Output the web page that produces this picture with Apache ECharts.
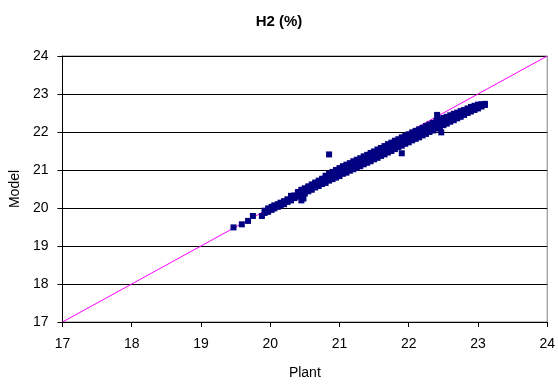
<!DOCTYPE html>
<html>
<head>
<meta charset="utf-8">
<script src="https://cdn.jsdelivr.net/npm/echarts@6/dist/echarts.min.js"></script>
<style>
  html, body { margin: 0; padding: 0; background: #fff; }
  #chart { width: 558px; height: 385px; }
</style>
</head>
<body>
<div id="chart"></div>
<script>
// Plant value (x) and the model values read at that plant value (y)
var plantSteps = [19.92, 19.97, 20.02, 20.06, 20.11, 20.15, 20.2, 20.25, 20.3, 20.35,
	20.4, 20.45, 20.5, 20.55, 20.6, 20.65, 20.7, 20.75, 20.8, 20.85,
	20.9, 20.95, 21.0, 21.05, 21.1, 21.15, 21.2, 21.25, 21.3, 21.35,
	21.4, 21.45, 21.5, 21.55, 21.6, 21.65, 21.7, 21.75, 21.8, 21.85,
	21.9, 21.95, 22.0, 22.05, 22.1, 22.15, 22.2, 22.25, 22.3, 22.35,
	22.4, 22.45, 22.5, 22.55, 22.6, 22.65, 22.7, 22.75, 22.8, 22.85,
	22.9, 22.95, 23.0, 23.05, 23.1];

var modelAtStep = [
	[19.87, 19.93], [19.9, 19.99], [19.95, 20.03], [19.99, 20.07, 20.04], [20.03, 20.1],
	[20.07, 20.14, 20.11], [20.1, 20.18, 20.15], [20.16, 20.23, 20.2], [20.2, 20.28, 20.25, 20.32], [20.26, 20.33, 20.3],
	[20.3, 20.38, 20.34, 20.42], [20.35, 20.43, 20.4, 20.48], [20.38, 20.46, 20.52, 20.43], [20.44, 20.5, 20.57, 20.54], [20.48, 20.55, 20.62, 20.58],
	[20.54, 20.6, 20.67, 20.64], [20.58, 20.65, 20.72, 20.68], [20.63, 20.7, 20.77, 20.74], [20.66, 20.74, 20.8, 20.85], [20.72, 20.79, 20.86, 20.9],
	[20.76, 20.84, 20.9, 20.95], [20.8, 20.88, 20.94, 21.0], [20.84, 20.92, 20.98, 21.05], [20.9, 20.97, 21.03, 21.1], [20.93, 21.01, 21.07, 21.14],
	[20.98, 21.05, 21.12, 21.18], [21.02, 21.1, 21.16, 21.23], [21.06, 21.14, 21.2, 21.27], [21.1, 21.18, 21.25, 21.31], [21.15, 21.22, 21.29, 21.36],
	[21.19, 21.27, 21.33, 21.4], [21.23, 21.31, 21.38, 21.45], [21.28, 21.35, 21.42, 21.49], [21.32, 21.4, 21.47, 21.54], [21.37, 21.44, 21.51, 21.58],
	[21.41, 21.49, 21.56, 21.63], [21.46, 21.53, 21.6, 21.68], [21.5, 21.58, 21.65, 21.72], [21.55, 21.62, 21.7, 21.77], [21.6, 21.67, 21.74, 21.81],
	[21.64, 21.71, 21.79, 21.86], [21.69, 21.76, 21.83, 21.9], [21.73, 21.8, 21.87, 21.94], [21.78, 21.85, 21.92, 21.99], [21.82, 21.89, 21.96, 22.03],
	[21.86, 21.93, 22.0, 22.07], [21.91, 21.98, 22.05, 22.11], [21.95, 22.02, 22.09, 22.16], [22.0, 22.07, 22.13, 22.2], [22.04, 22.11, 22.18, 22.24],
	[22.09, 22.15, 22.22, 22.3], [22.13, 22.2, 22.26, 22.33], [22.18, 22.24, 22.3, 22.37], [22.22, 22.28, 22.34, 22.4], [22.27, 22.33, 22.38, 22.44],
	[22.31, 22.37, 22.42, 22.48], [22.36, 22.41, 22.46, 22.51], [22.4, 22.45, 22.5, 22.55], [22.45, 22.5, 22.54, 22.58], [22.5, 22.54, 22.58, 22.62],
	[22.54, 22.58, 22.62, 22.66], [22.58, 22.62, 22.66, 22.69], [22.62, 22.66, 22.69, 22.72], [22.67, 22.7, 22.73], [22.71, 22.74]
];

// stray points away from the main band
var outliers = [[19.47, 19.49], [19.59, 19.57], [19.68, 19.66], [19.75, 19.79], [19.88, 19.79],
	[20.45, 20.2], [20.48, 20.25], [20.85, 21.41], [21.9, 21.44], [22.47, 21.99], [22.41, 22.45]];

// y = x reference line
var diagonal = [[17, 17], [24, 24]];

var axisTicks = [17, 18, 19, 20, 21, 22, 23, 24];

var scatterData = [];
for (var i = 0; i < plantSteps.length; i++) {
	for (var j = 0; j < modelAtStep[i].length; j++) {
		scatterData.push([plantSteps[i], modelAtStep[i][j]]);
	}
}
for (var k = 0; k < outliers.length; k++) {
	scatterData.push(outliers[k]);
}

var font = 'Liberation Sans, Arial, sans-serif';

var option = {
	animation: false,
	backgroundColor: '#ffffff',
	title: {
		text: 'H2 (%)',
		left: 'center',
		top: 9,
		textStyle: {
			fontFamily: font,
			fontSize: 15,
			fontWeight: 'bold',
			color: '#000'
		}
	},
	grid: {
		left: 61,
		right: 9,
		top: 56,
		bottom: 60,
		show: true,
		borderColor: '#808080',
		borderWidth: 1
	},
	xAxis: {
		type: 'value',
		min: axisTicks[0],
		max: axisTicks[axisTicks.length - 1],
		interval: 1,
		name: 'Plant',
		nameLocation: 'middle',
		nameGap: 44,
		nameTextStyle: { fontFamily: font, fontSize: 14, color: '#000' },
		axisLine: { show: true, lineStyle: { color: '#000', width: 1 } },
		axisTick: { show: true, inside: false, length: 5, lineStyle: { color: '#000' } },
		axisLabel: { fontFamily: font, fontSize: 14, color: '#000', margin: 15 },
		splitLine: { show: false }
	},
	yAxis: {
		type: 'value',
		min: axisTicks[0],
		max: axisTicks[axisTicks.length - 1],
		interval: 1,
		name: 'Model',
		nameLocation: 'middle',
		nameGap: 40,
		nameTextStyle: { fontFamily: font, fontSize: 14, color: '#000' },
		axisLine: { show: true, lineStyle: { color: '#000', width: 1 } },
		axisTick: { show: true, inside: false, length: 5, lineStyle: { color: '#000' } },
		axisLabel: { fontFamily: font, fontSize: 14, color: '#000', margin: 14 },
		splitLine: { show: true, lineStyle: { color: '#000', width: 1 } }
	},
	series: [{
		name: 'diagonal',
		type: 'line',
		data: diagonal,
		showSymbol: false,
		symbol: 'none',
		lineStyle: { color: '#ff00ff', width: 1 },
		z: 2
	}, {
		name: 'H2',
		type: 'scatter',
		data: scatterData,
		symbol: 'rect',
		symbolSize: 6,
		itemStyle: { color: '#000080', opacity: 1 },
		z: 3
	}]
};

var myChart = echarts.init(document.getElementById('chart'));
myChart.setOption(option);
</script>
</body>
</html>
